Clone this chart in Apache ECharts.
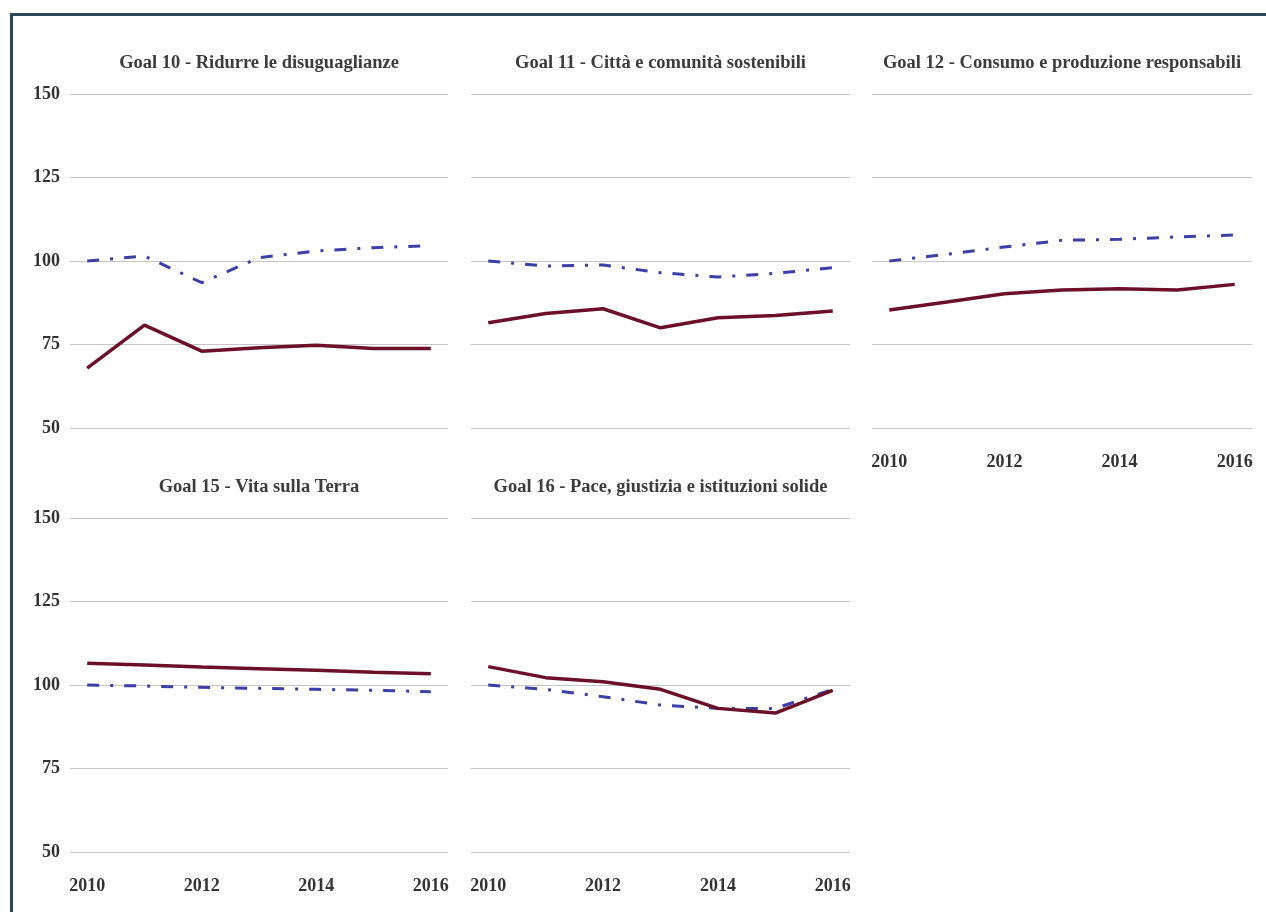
<!DOCTYPE html>
<html lang="it">
<head>
<meta charset="UTF-8">
<title>Goal</title>
<script src="https://cdn.jsdelivr.net/npm/echarts@6/dist/echarts.min.js"></script>
<style>
    html, body { margin: 0; padding: 0; background: #fff; overflow: hidden; }
    #chart { width: 1266px; height: 912px; }
    #frame {
        position: absolute; left: 10px; top: 13px; width: 1300px; height: 950px;
        border-left: 3px solid #2f4858; border-top: 3px solid #2f4858;
        pointer-events: none;
    }
</style>
</head>
<body>
<div id="chart"></div>
<div id="frame"></div>
<script>
var years = [2010, 2011, 2012, 2013, 2014, 2015, 2016];
var xTicks = [2010, 2012, 2014, 2016];

var titles = [
    'Goal 10 - Ridurre le disuguaglianze',
    'Goal 11 - Città e comunità sostenibili',
    'Goal 12 - Consumo e produzione responsabili',
    'Goal 15 - Vita sulla Terra',
    'Goal 16 - Pace, giustizia e istituzioni solide'
];

// solid line (maroon) and dash-dot line (blue), one pair per panel
var goal10Solid = [67.9, 80.8, 73.0, 74.0, 74.8, 73.8, 73.8];
var goal10Dash  = [100, 101.5, 93.5, 101.0, 103.0, 104.0, 104.6];
var goal11Solid = [81.5, 84.3, 85.7, 80.0, 83.0, 83.7, 85.0];
var goal11Dash  = [100, 98.5, 98.8, 96.5, 95.2, 96.3, 98.0];
var goal12Solid = [85.3, 87.7, 90.2, 91.3, 91.7, 91.3, 93.0];
var goal12Dash  = [100, 102.0, 104.2, 106.2, 106.5, 107.2, 107.8];
var goal15Solid = [106.5, 106.0, 105.4, 104.9, 104.4, 103.8, 103.4];
var goal15Dash  = [100, 99.7, 99.3, 99.0, 98.7, 98.4, 98.0];
var goal16Solid = [105.5, 102.2, 101.0, 98.7, 93.0, 91.6, 98.4];
var goal16Dash  = [100, 98.7, 96.5, 94.0, 93.0, 93.0, 98.7];

var solids = [goal10Solid, goal11Solid, goal12Solid, goal15Solid, goal16Solid];
var dashes = [goal10Dash, goal11Dash, goal12Dash, goal15Dash, goal16Dash];

// panel layout: [left, top, width, showYLabels, showXLabels]
var panels = [
    [70, 94, 378, true, false],
    [471, 94, 379, false, false],
    [872, 94, 380, false, true],
    [70, 518, 378, true, true],
    [471, 518, 379, false, true]
];

var font = '"Liberation Serif", "Times New Roman", serif';

function pairs(vals) {
    return years.map(function (y, i) { return [y, vals[i]]; });
}

var grids = [], xAxes = [], yAxes = [], series = [], titleList = [];

panels.forEach(function (p, i) {
    grids.push({ left: p[0], top: p[1], width: p[2], height: 334 });
    titleList.push({
        text: titles[i],
        left: p[0] + p[2] / 2,
        top: p[1] - 40,
        textAlign: 'center',
        padding: 0,
        textStyle: { fontFamily: font, fontWeight: 'bold', fontSize: 18.5, color: '#3c3c3c' }
    });
    xAxes.push({
        type: 'value',
        gridIndex: i,
        min: 2009.7,
        max: 2016.3,
        axisLine: { show: false },
        axisTick: { show: false },
        splitLine: { show: false },
        axisLabel: {
            show: p[4],
            customValues: xTicks,
            margin: 25,
            formatter: function (v) { return String(Math.round(v)); },
            fontFamily: font, fontWeight: 'bold', fontSize: 18, color: '#333'
        }
    });
    yAxes.push({
        type: 'value',
        gridIndex: i,
        min: 50,
        max: 150,
        interval: 25,
        axisLine: { show: false },
        axisTick: { show: false },
        splitLine: { lineStyle: { color: '#c6c6c6', width: 1 } },
        axisLabel: {
            show: p[3],
            margin: 10,
            fontFamily: font, fontWeight: 'bold', fontSize: 18, color: '#333'
        }
    });
    series.push({
        type: 'line',
        xAxisIndex: i,
        yAxisIndex: i,
        data: pairs(dashes[i]),
        showSymbol: false,
        silent: true,
        lineStyle: { color: '#3b3fa6', width: 3, type: [12, 11, 3, 11], cap: 'butt' },
        z: 2
    });
    series.push({
        type: 'line',
        xAxisIndex: i,
        yAxisIndex: i,
        data: pairs(solids[i]),
        showSymbol: false,
        silent: true,
        lineStyle: { color: '#6c1029', width: 3.5 },
        z: 3
    });
});

var chart = echarts.init(document.getElementById('chart'));
chart.setOption({
    animation: false,
    backgroundColor: '#fff',
    title: titleList,
    grid: grids,
    xAxis: xAxes,
    yAxis: yAxes,
    series: series
});
</script>
</body>
</html>
